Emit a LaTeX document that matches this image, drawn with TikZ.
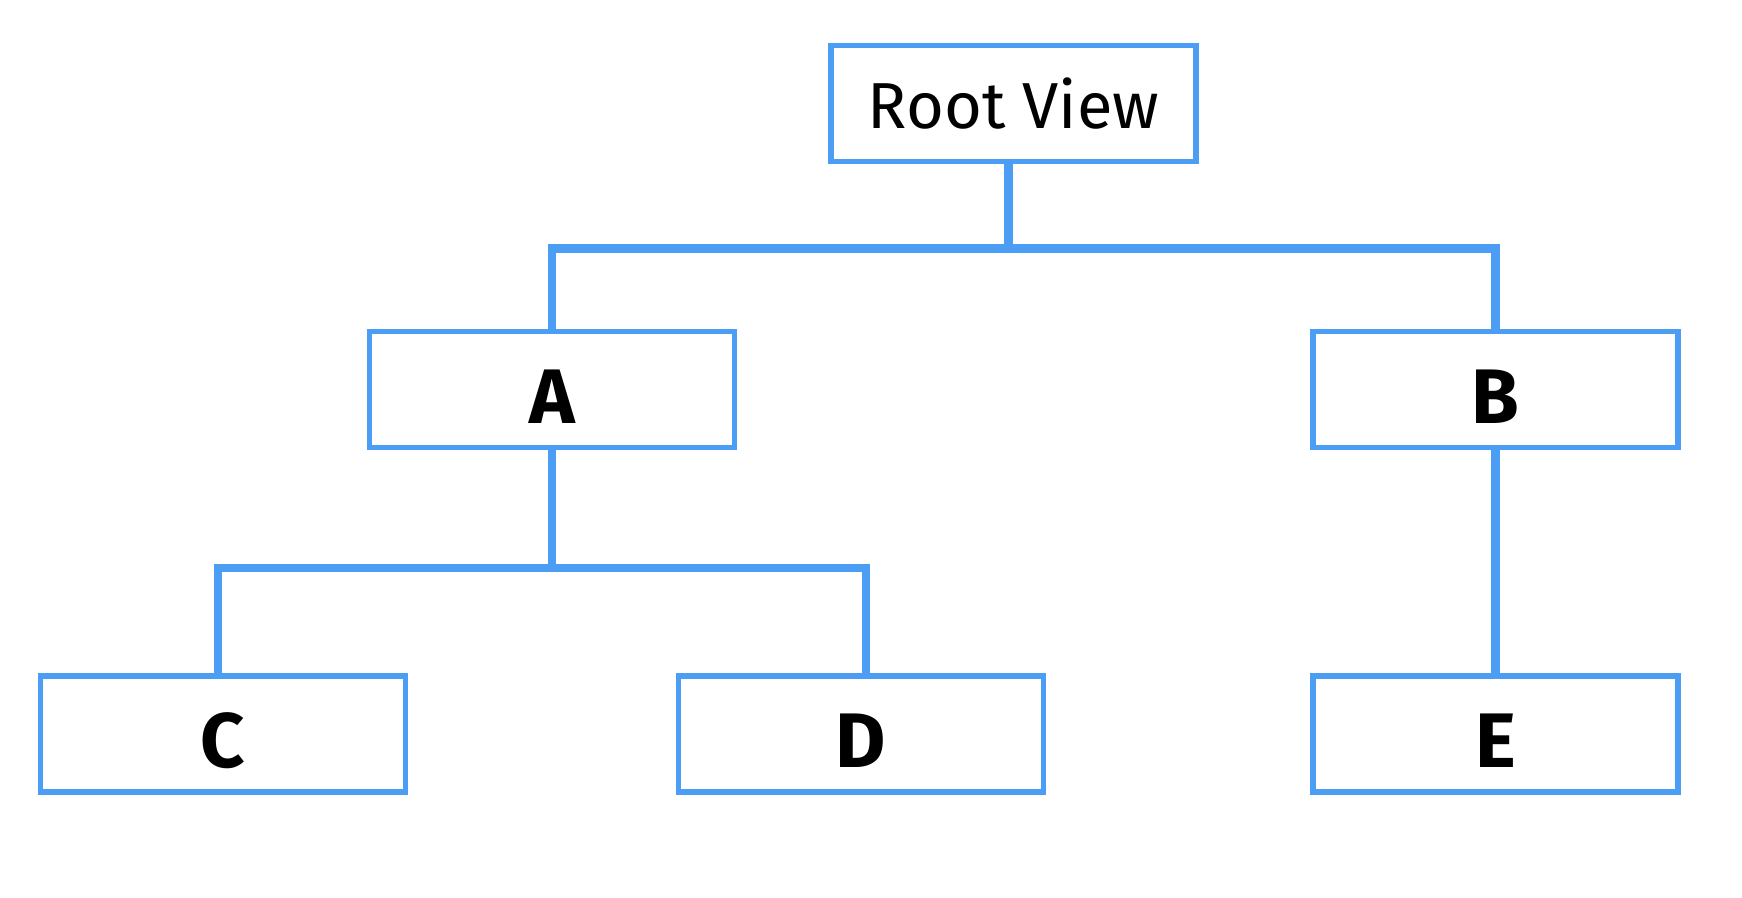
\documentclass[tikz,border=0pt]{standalone}
\usepackage{fontspec}
\setmainfont{Fira Sans}
\definecolor{viewblue}{RGB}{76,158,245}
\tikzset{
  view/.style={draw=viewblue, line width=3.1pt, minimum width=7.3cm, minimum height=2.32cm, inner sep=0pt},
  link/.style={viewblue, line width=5pt},
  letter/.style={font=\fontsize{44}{44}\selectfont\bfseries, text height=1.36cm, text depth=0pt}
}
\begin{document}
\begin{tikzpicture}[scale=1]
\useasboundingbox (0,0) rectangle (34.84,17.96);

\node[view, font=\fontsize{37}{37}\selectfont] (root) at (20.27,15.89) {Root View};
\node[view, letter] (a) at (11.04,10.17) {A};
\node[view, letter] (b) at (29.91,10.17) {B};
\node[view, letter] (c) at (4.46,3.28) {C};
\node[view, letter] (d) at (17.22,3.28) {D};
\node[view, letter] (e) at (29.91,3.28) {E};

\coordinate (top) at (0,12.99);
\coordinate (mid) at (0,6.6);

\draw[link] ([xshift=-0.1cm]root.south) -- ([xshift=-0.1cm]root.south |- top);
\draw[link] (a.north) -- (a.north |- top) -- (b.north |- top) -- (b.north);
\draw[link] (a.south) -- (a.south |- mid);
\draw[link] ([xshift=-0.1cm]c.north) -- ([xshift=-0.1cm]c.north |- mid)
  -- ([xshift=0.1cm]d.north |- mid) -- ([xshift=0.1cm]d.north);
\draw[link] (b.south) -- (e.north);

\end{tikzpicture}
\end{document}
